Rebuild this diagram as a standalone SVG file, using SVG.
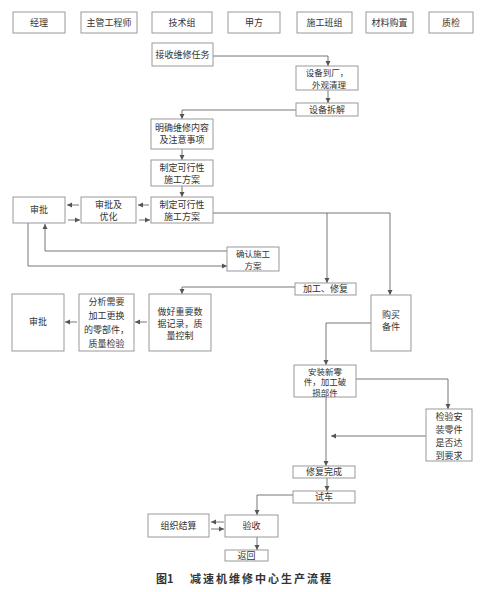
<svg xmlns="http://www.w3.org/2000/svg" width="481" height="592" viewBox="0 0 481 592">
<defs>
<marker id="ah" markerWidth="6" markerHeight="6" refX="5" refY="3" orient="auto" markerUnits="userSpaceOnUse">
<path d="M0,0.5 L5,3 L0,5.5 Z" fill="#555"/>
</marker>
</defs>
<style>
.b{fill:#fff;stroke:#999;stroke-width:1}
.t{font-family:"Noto Sans CJK SC",sans-serif;font-size:9px;fill:#333;text-anchor:middle}
.s{font-size:8.5px}
.c{fill:none;stroke:#666;stroke-width:0.9}
.a{marker-end:url(#ah)}
.cap{font-family:"Noto Sans CJK SC",sans-serif;font-size:11px;font-weight:bold;fill:#333}
</style>
<rect width="481" height="592" fill="#fff"/>
<g id="header">
<g id="h1"><rect class="b" x="13" y="12" width="52" height="21"/><text class="t" x="39" y="26">经理</text></g>
<g id="h2"><rect class="b" x="81" y="12" width="56" height="21"/><text class="t" x="109" y="26">主管工程师</text></g>
<g id="h3"><rect class="b" x="152" y="12" width="60" height="21"/><text class="t" x="182" y="26">技术组</text></g>
<g id="h4"><rect class="b" x="228" y="12" width="52" height="21"/><text class="t" x="254" y="26">甲方</text></g>
<g id="h5"><rect class="b" x="297" y="12" width="55" height="21"/><text class="t" x="324.5" y="26">施工班组</text></g>
<g id="h6"><rect class="b" x="366" y="12" width="47" height="21"/><text class="t" x="389.5" y="26">材料购置</text></g>
<g id="h7"><rect class="b" x="429" y="12" width="44" height="21"/><text class="t" x="451" y="26">质检</text></g>
</g>
<g id="connectors">
<path class="c a" d="M213,56 H328 V66"/>
<path class="c a" d="M328,90 V103"/>
<path class="c a" d="M296,110 H182 V119"/>
<path class="c a" d="M182,149 V160"/>
<path class="c a" d="M182,186 V197"/>
<path class="c a" d="M149,205 H138"/>
<path class="c a" d="M139,220 H150"/>
<path class="c a" d="M79,205 H67"/>
<path class="c a" d="M68,220 H80"/>
<path class="c a" d="M28,223 V266 H227"/>
<path class="c a" d="M227,251 H45 V224"/>
<path class="c a" d="M213,213 H390 V295"/>
<path class="c a" d="M327,213 V283"/>
<path class="c a" d="M295,287 H182 V294"/>
<path class="c a" d="M147,322 H135"/>
<path class="c a" d="M77,322 H65"/>
<path class="c a" d="M371,323 H326 V365"/>
<path class="c a" d="M356,379 H448 V409"/>
<path class="c a" d="M426,436 H331"/>
<path class="c a" d="M326,397 V466"/>
<path class="c a" d="M327,478 V491"/>
<path class="c a" d="M293,495 H257 V515"/>
<path class="c a" d="M224,522 H211"/>
<path class="c a" d="M211,529 H224"/>
<path class="c a" d="M257,537 V550"/>
</g>
<g id="n1"><rect class="b" x="152" y="43" width="61" height="23"/><text class="t" x="182.5" y="58">接收维修任务</text></g>
<g id="n2"><rect class="b" x="296" y="66" width="62" height="24"/><text class="t s" x="327" y="76.3">设备到厂，</text><text class="t s" x="329" y="87.5">外观清理</text></g>
<g id="n3"><rect class="b" x="296" y="103" width="62" height="13"/><text class="t" x="327" y="112.8">设备拆解</text></g>
<g id="n4"><rect class="b" x="151" y="119" width="62" height="30"/><text class="t" x="182" y="131">明确维修内容</text><text class="t" x="182" y="143">及注意事项</text></g>
<g id="n5"><rect class="b" x="151" y="160" width="62" height="26"/><text class="t" x="182" y="171">制定可行性</text><text class="t" x="182" y="182.5">施工方案</text></g>
<g id="n6"><rect class="b" x="151" y="197" width="62" height="26"/><text class="t" x="182" y="208">制定可行性</text><text class="t" x="182" y="219.5">施工方案</text></g>
<g id="n7"><rect class="b" x="81" y="197" width="55" height="26"/><text class="t" x="108.5" y="208">审批及</text><text class="t" x="108.5" y="219.5">优化</text></g>
<g id="n8"><rect class="b" x="13" y="197" width="52" height="26"/><text class="t" x="39" y="213">审批</text></g>
<g id="n9"><rect class="b" x="227" y="247" width="52" height="24"/><text class="t s" x="253" y="257.3">确认施工</text><text class="t s" x="253" y="268.5">方案</text></g>
<g id="n10"><rect class="b" x="295" y="283" width="61" height="12"/><text class="t" x="325.5" y="292.3">加工、修复</text></g>
<g id="n11"><rect class="b" x="149" y="294" width="62" height="57"/><text class="t" x="180" y="315">做好重要数</text><text class="t" x="180" y="327">据记录，质</text><text class="t" x="180" y="339">量控制</text></g>
<g id="n12"><rect class="b" x="79" y="294" width="55" height="57"/><text class="t" x="106.5" y="305">分析需要</text><text class="t" x="106.5" y="319">加工更换</text><text class="t" x="106.5" y="333">的零部件，</text><text class="t" x="106.5" y="347">质量检验</text></g>
<g id="n13"><rect class="b" x="12" y="294" width="52" height="57"/><text class="t" x="38" y="325">审批</text></g>
<g id="n14"><rect class="b" x="371" y="295" width="40" height="56"/><text class="t" x="391" y="318">购买</text><text class="t" x="391" y="330">备件</text></g>
<g id="n15"><rect class="b" x="294" y="365" width="62" height="32"/><text class="t s" x="325" y="374.5">安装新零</text><text class="t s" x="325" y="385">件，加工破</text><text class="t s" x="325" y="395.5">损部件</text></g>
<g id="n16"><rect class="b" x="426" y="409" width="46" height="52"/><text class="t" x="449" y="420">检验安</text><text class="t" x="449" y="433">装零件</text><text class="t" x="449" y="446">是否达</text><text class="t" x="449" y="459">到要求</text></g>
<g id="n17"><rect class="b" x="293" y="466" width="62" height="12"/><text class="t" x="324" y="475.3">修复完成</text></g>
<g id="n18"><rect class="b" x="293" y="491" width="62" height="12"/><text class="t" x="324" y="500.3">试车</text></g>
<g id="n19"><rect class="b" x="225" y="515" width="53" height="22"/><text class="t" x="251.5" y="529">验收</text></g>
<g id="n20"><rect class="b" x="148" y="514" width="61" height="23"/><text class="t" x="178.5" y="529">组织结算</text></g>
<g id="n21"><rect class="b" x="225" y="550" width="43" height="11"/><text class="t" x="246.5" y="558.8">返回</text></g>
<text class="cap" x="156" y="583">图1</text>
<text class="cap" x="190" y="583" letter-spacing="2">减速机维修中心生产流程</text>
</svg>
